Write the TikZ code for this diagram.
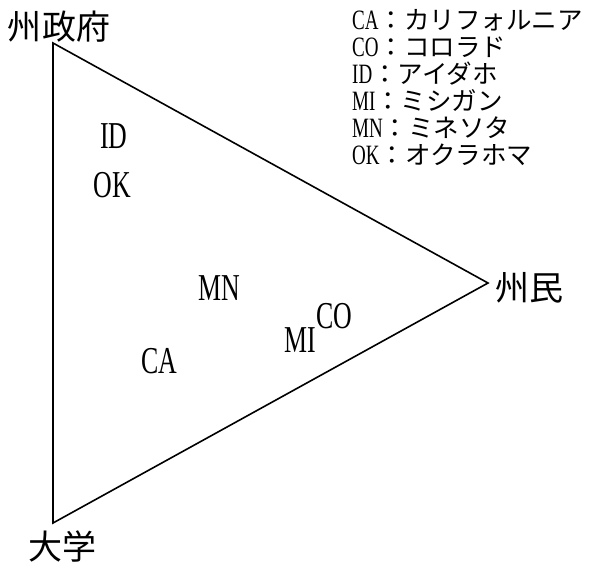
\documentclass[tikz,border=0pt]{standalone}
\usepackage{fontspec}
\setmainfont{Liberation Serif}[FakeStretch=0.68]
\newfontfamily\cjk{Noto Sans CJK JP}
\begin{document}
\begin{tikzpicture}[x=1pt,y=-1pt,
  big/.style={font=\cjk\fontsize{34}{34}\selectfont, inner sep=0pt, anchor=base},
  state/.style={font=\fontsize{38}{38}\selectfont, inner sep=0pt, anchor=base},
  leg/.style={font=\fontsize{28}{28}\selectfont, inner sep=0pt, anchor=base west}]
\useasboundingbox (0,0) rectangle (593,563);
\coordinate (g) at (53,43);
\coordinate (p) at (488,283);
\coordinate (u) at (53,523);
\draw[line width=1.6pt, line join=miter] (g) -- (p) -- (u) -- cycle;
\node[big] (lg) at (59,39) {州政府};
\node[big] (lp) at (529,300) {州民};
\node[big] (lu) at (62,559) {大学};
\node[state] (ID) at (114,148) {ID};
\node[state] (OK) at (112.5,197) {OK};
\node[state] (MN) at (219,300) {MN};
\node[state] (MI) at (300,352) {MI};
\node[state] (CO) at (334,328) {CO};
\node[state] (CA) at (159,373) {CA};
\node[leg] (k1) at (352,29) {CA{\cjk\fontsize{25.5}{26}\selectfont ：カリフォルニア}};
\node[leg] (k2) at (352,56) {CO{\cjk\fontsize{25.5}{26}\selectfont ：コロラド}};
\node[leg] (k3) at (352,83) {ID{\cjk\fontsize{25.5}{26}\selectfont ：アイダホ}};
\node[leg] (k4) at (352,110) {MI{\cjk\fontsize{25.5}{26}\selectfont ：ミシガン}};
\node[leg] (k5) at (352,137) {MN{\cjk\fontsize{25.5}{26}\selectfont ：ミネソタ}};
\node[leg] (k6) at (352,164) {OK{\cjk\fontsize{25.5}{26}\selectfont ：オクラホマ}};
\end{tikzpicture}
\end{document}
